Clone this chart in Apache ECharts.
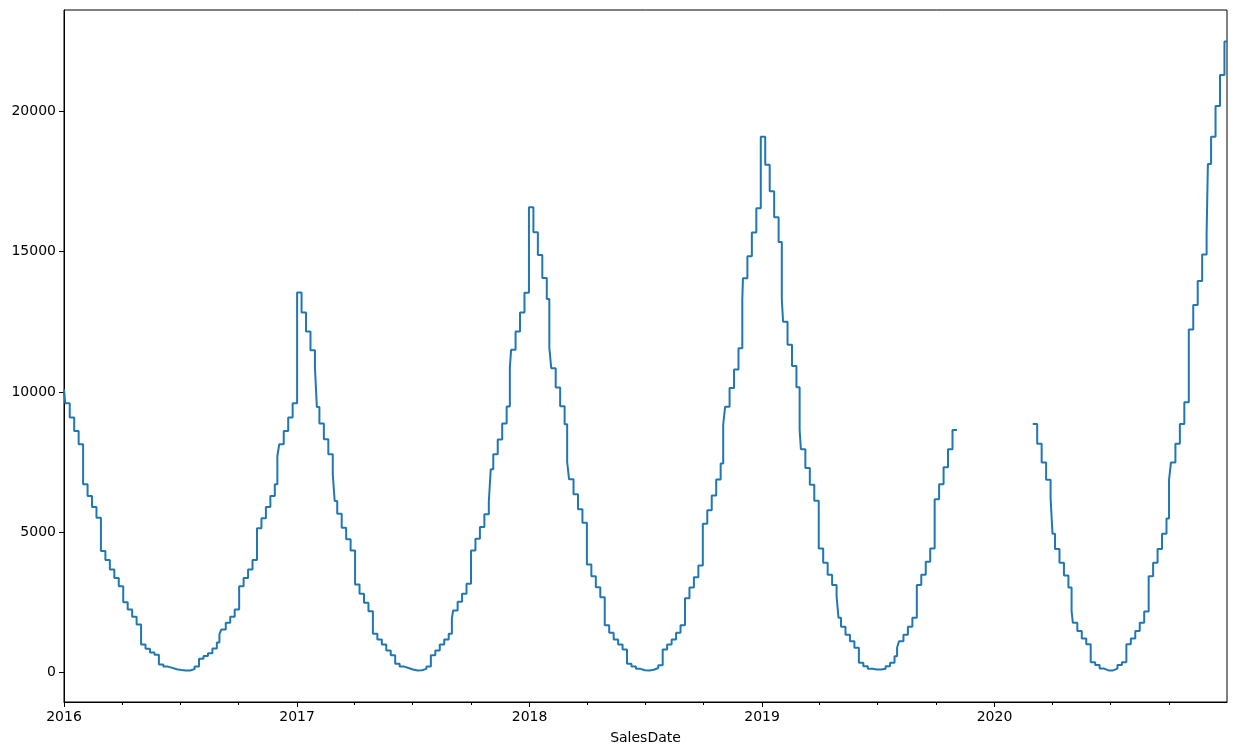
<!DOCTYPE html>
<html>
<head>
<meta charset="utf-8">
<script src="https://cdn.jsdelivr.net/npm/echarts@6/dist/echarts.min.js"></script>
<style>
html,body{margin:0;padding:0;background:#fff;}
#chart{width:1236px;height:756px;}
</style>
</head>
<body>
<div id="chart"></div>
<script>
// ---- data ----
const firstDay = '2016-01-01';
const firstDayValue = 10095;
const firstWeekStart = '2016-01-03';      // weekly values start on this Sunday
const lastDayBeforeGap = '2019-10-31';
const lastDay = '2020-12-31';
const sales2016 = [9595,9084,8606,8131,6703,6285,5893,5514,4322,4000,3667,3357,3071,2500,2238,1976,1700,989,834,700,619,275,200,155,107,83,60,60,110,200,485,580,676,843,1057,1524,1762,1976,2238,3071,3357,3667,4000,5140,5489,5892,6285,6703,8131,8606,9084,9595];
const sales2017 = [13548,12834,12155,11487,10870,8870,8310,7774,7060,5656,5156,4739,4346,3132,2800,2478,2178,1371,1168,989,775,607,300,200,150,100,60,70,120,200,607,775,989,1168,1371,2203,2514,2800,3157,4346,4764,5178,5631,6083,7774,8299,8870,9477,11499,12155,12834,13534];
const sales2018 = [16583,15691,14880,14059,13309,10845,10156,9488,8845,6881,6346,5810,5335,3846,3428,3035,2678,1678,1407,1168,990,810,300,200,120,70,60,90,150,250,810,990,1168,1407,1678,2643,3021,3388,3806,5297,5777,6308,6877,7446,9468,10138,10795,11554,14057,14840,15687,16547];
const sales2019 = [19100,18101,17153,16231,15346,12502,11680,10922,10163,7952,7282,6688,6119,4412,3907,3480,3107,2714,1621,1336,1107,871,336,214,121,96,96,121,214,336,571,1107,1336,1621,1943,3107,3480,3942,4417,6167,6703,7310,7953,8642];
const missingWeeks = 17;
const sales2020 = [8858,8149,7484,6863,6227,4394,3907,3449,3020,1764,1468,1202,995,359,256,130,64,64,130,256,359,995,1202,1468,1764,2170,3420,3907,4394,4941,5488,7484,8149,8858,9627,12228,13100,13957,14903,15650,19100,20200,21300,22500];
// value from the first of a month that starts mid-week, until the next Sunday
const monthStarts = [
  ['2016-09-01',1350],['2016-12-01',7713],['2017-02-01',9463],['2017-03-01',6107],
  ['2017-09-01',1918],['2017-11-01',7238],['2017-12-01',10870],['2018-02-01',11584],
  ['2018-03-01',7499],['2018-11-01',8836],['2018-12-01',13286],['2019-02-01',13324],
  ['2019-03-01',8647],['2019-05-01',1943],['2019-08-01',871],['2020-04-01',4941],
  ['2020-05-01',2177],['2020-10-01',6863],['2020-12-01',18125]
];
const yearLabels = ['2016','2017','2018','2019','2020'];
const yTickValues = [0,5000,10000,15000,20000];

// ---- build ----
const DAY = 86400000;
const ts = s => { const [y,m,d] = s.split('-').map(Number); return Date.UTC(y,m-1,d); };
const weekly = [].concat(sales2016, sales2017, sales2018, sales2019,
  new Array(missingWeeks).fill(null), sales2020);
const t0 = ts(firstWeekStart);
let pts = [[ts(firstDay), firstDayValue]];
const gapT = ts(lastDayBeforeGap);
let lastVal = null;
weekly.forEach((v, i) => {
  const t = t0 + i * 7 * DAY;
  if (v === null && lastVal !== null && gapT < t) {
    pts.push([gapT, lastVal]);
  }
  pts.push([t, v]);
  lastVal = v;
});
pts.push([ts(lastDay), lastVal]);
monthStarts.forEach(([d, v]) => pts.push([ts(d), v]));
pts.sort((a, b) => a[0] - b[0]);

const vals = weekly.filter(v => v !== null).concat([firstDayValue]);
const lo = Math.min(...vals), hi = Math.max(...vals);
const pad = (hi - lo) * 0.05;

const xMin = ts(firstDay), xMax = ts(lastDay);
const yearTicks = yearLabels.map(y => Date.UTC(+y, 0, 1));
const quarterTicks = [];
yearLabels.forEach(y => { [3,6,9].forEach(m => quarterTicks.push(Date.UTC(+y, m, 1))); });

const font = 'DejaVu Sans';
const chart = echarts.init(document.getElementById('chart'), null, {renderer: 'canvas'});
chart.setOption({
  animation: false,
  backgroundColor: '#fff',
  grid: {left: 64, top: 10, width: 1163, height: 692, show: true, borderColor: '#000', borderWidth: 1, backgroundColor: 'transparent'},
  xAxis: [{
    type: 'value', min: xMin, max: xMax, position: 'bottom', offset: 0,
    name: 'SalesDate', nameLocation: 'middle', nameGap: 29,
    nameTextStyle: {fontFamily: font, fontSize: 14, color: '#000'},
    axisLine: {show: true, onZero: false, lineStyle: {color: '#000', width: 1}},
    axisTick: {show: true, length: 5, lineStyle: {color: '#000', width: 1}, customValues: yearTicks},
    axisLabel: {show: true, margin: 8, fontFamily: font, fontSize: 14, color: '#000', customValues: yearTicks,
      formatter: v => String(new Date(v).getUTCFullYear())},
    splitLine: {show: false}
  }, {
    type: 'value', min: xMin, max: xMax, position: 'bottom', offset: 0,
    axisLine: {show: false, onZero: false},
    axisTick: {show: true, length: 3, lineStyle: {color: '#000', width: 1}, customValues: quarterTicks},
    axisLabel: {show: false},
    splitLine: {show: false}
  }],
  yAxis: {
    type: 'value', min: lo - pad, max: hi + pad,
    axisLine: {show: true, onZero: false, lineStyle: {color: '#000', width: 1}},
    axisTick: {show: true, length: 5, lineStyle: {color: '#000', width: 1}, customValues: yTickValues},
    axisLabel: {show: true, margin: 8, fontFamily: font, fontSize: 14, color: '#000', customValues: yTickValues,
      formatter: v => String(v)},
    splitLine: {show: false}
  },
  series: [{
    type: 'line', xAxisIndex: 0, data: pts, step: 'end', showSymbol: false, symbol: 'none',
    connectNulls: false,
    lineStyle: {color: '#1f77b4', width: 2},
    itemStyle: {color: '#1f77b4'}
  }]
});
</script>
</body>
</html>
